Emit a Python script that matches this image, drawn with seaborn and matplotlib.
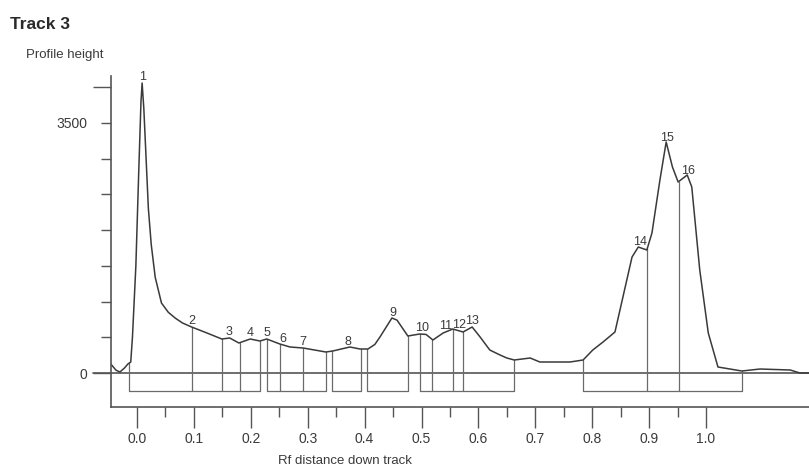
import numpy as np
import pandas as pd
import matplotlib
matplotlib.use("Agg")
import matplotlib.pyplot as plt
import seaborn as sns

# ---- data ----
rf = [-0.046, -0.037, -0.030, -0.022, -0.016, -0.011, -0.008, -0.002, 0.003, 0.007,
      0.009, 0.012, 0.016, 0.020, 0.025, 0.032, 0.043, 0.055, 0.067, 0.080,
      0.096, 0.123, 0.149, 0.163, 0.179, 0.199, 0.216, 0.228, 0.251, 0.269,
      0.292, 0.332, 0.344, 0.374, 0.392, 0.406, 0.418, 0.427, 0.448, 0.457,
      0.476, 0.497, 0.508, 0.520, 0.538, 0.555, 0.573, 0.589, 0.603, 0.620,
      0.638, 0.650, 0.663, 0.691, 0.708, 0.761, 0.784, 0.801, 0.819, 0.840,
      0.854, 0.870, 0.881, 0.896, 0.905, 0.919, 0.930, 0.941, 0.951, 0.967,
      0.975, 0.989, 1.004, 1.021, 1.063, 1.095, 1.148, 1.165, 1.181]
height = [126, 40, 14, 70, 126, 154, 500, 1500, 2800, 3800,
          4060, 3700, 3000, 2300, 1800, 1340, 980, 850, 770, 700,
          644, 560, 476, 490, 420, 476, 448, 476, 406, 364,
          350, 294, 308, 364, 336, 336, 400, 504, 770, 740,
          518, 546, 540, 462, 560, 616, 574, 644, 504, 322,
          252, 210, 182, 210, 154, 154, 182, 322, 434, 574,
          1064, 1624, 1764, 1722, 1960, 2702, 3234, 2884, 2674, 2772,
          2604, 1442, 560, 84, 28, 56, 42, 0, 0]

peak_labels = ["1", "2", "3", "4", "5", "6", "7", "8", "9", "10",
               "11", "12", "13", "14", "15", "16"]
peak_rf = [0.009, 0.097, 0.162, 0.199, 0.228, 0.257, 0.292, 0.371, 0.450, 0.501,
           0.543, 0.566, 0.589, 0.884, 0.931, 0.968]

lane_start = [-0.014, 0.229, 0.342, 0.405, 0.497, 0.783]
lane_end = [0.216, 0.332, 0.393, 0.477, 0.663, 1.064]
dividers = [0.097, 0.150, 0.181, 0.251, 0.291, 0.519, 0.556, 0.573, 0.897, 0.952]
box_depth = -245

x_ticks = [0.0, 0.1, 0.2, 0.3, 0.4, 0.5, 0.6, 0.7, 0.8, 0.9, 1.0]
x_minor = [0.05, 0.15, 0.25, 0.35, 0.45, 0.55, 0.65, 0.75, 0.85, 0.95]
y_ticks = [0, 500, 1000, 1500, 2000, 2500, 3000, 3500, 4000]
y_ticklabels = ["0", "", "", "", "", "", "", "3500", ""]

# ---- styling ----
sns.set_theme(style="white")
plt.rcParams["font.family"] = ["Liberation Sans", "DejaVu Sans"]
ink = "#3a3a3a"
axis_col = "#555555"
box_col = "#6a6a6a"

fig = plt.figure(figsize=(8.09, 4.72), dpi=100)
ax = fig.add_axes([0.1372, 0.1377, 0.8628, 0.7013])

df = pd.DataFrame({"rf": rf, "height": height})
sns.lineplot(data=df, x="rf", y="height", ax=ax, color=ink, linewidth=1.1,
             estimator=None, sort=False)

ax.set_xlim(-0.0457, 1.181)
ax.set_ylim(-476, 4158)

# baseline (zero line)
ax.plot([-0.0773, 1.181], [0, 0], color=axis_col, linewidth=1.2, clip_on=False,
        zorder=1)

# lane boxes
for s, e in zip(lane_start, lane_end):
    ys = np.interp(s, rf, height)
    ye = np.interp(e, rf, height)
    ax.plot([s, s, e, e], [ys, box_depth, box_depth, ye], color=box_col,
            linewidth=0.9, zorder=1)
for d in dividers:
    yd = np.interp(d, rf, height)
    ax.plot([d, d], [box_depth, yd], color=box_col, linewidth=0.9, zorder=1)

# peak labels
for lab, px in zip(peak_labels, peak_rf):
    py = np.interp(px, rf, height)
    ax.annotate(lab, (px, py), xytext=(0, 2), textcoords="offset points",
                ha="center", va="baseline", fontsize=9, color=ink)

# axes styling
for side in ["top", "right"]:
    ax.spines[side].set_visible(False)
for side in ["left", "bottom"]:
    ax.spines[side].set_color(axis_col)
    ax.spines[side].set_linewidth(1.2)

ax.set_xticks(x_ticks)
ax.set_xticklabels([f"{v:.1f}" for v in x_ticks])
ax.set_xticks(x_minor, minor=True)
ax.set_yticks(y_ticks)
ax.set_yticklabels(y_ticklabels)
ax.tick_params(axis="x", which="major", direction="out", length=15, width=1,
               color=axis_col, pad=3, labelsize=10, labelcolor=ink, bottom=True)
ax.tick_params(axis="x", which="minor", direction="out", length=7.2, width=1,
               color=axis_col, bottom=True)
ax.tick_params(axis="y", which="major", direction="out", length=7.2, width=1,
               color=axis_col, pad=10, labelsize=10, labelcolor=ink, left=True)
yt = ax.yaxis.get_major_ticks()
yt[-1].tick1line.set_markersize(13)
yt[0].tick1line.set_markersize(13)

ax.set_xlabel("")
ax.set_ylabel("")
ax.grid(False)

fig.text(0.0124, 0.949, "Track 3", fontsize=12.5, fontweight="bold",
         color="#2a2a2a", ha="left", va="center")
fig.text(0.032, 0.883, "Profile height", fontsize=9.5, color=ink,
         ha="left", va="center")
fig.text(0.4265, 0.0233, "Rf distance down track", fontsize=9.5, color=ink,
         ha="center", va="center")

fig.savefig("out.png", dpi=100)
